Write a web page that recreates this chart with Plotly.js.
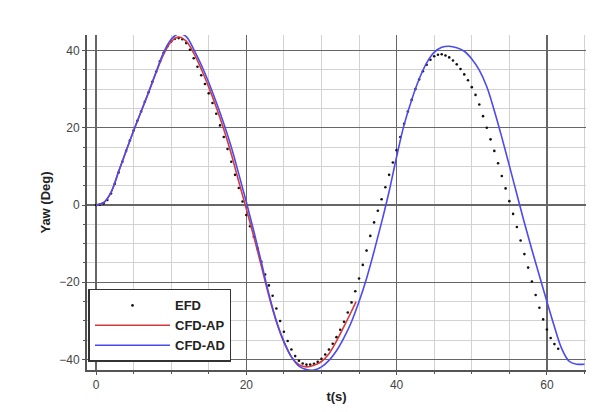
<!DOCTYPE html>
<html>
<head>
<meta charset="utf-8">
<script src="https://cdn.plot.ly/plotly-3.0.1.min.js"></script>
<style>html,body{margin:0;padding:0;background:#fff;}#chart{width:614px;height:412px;}</style>
</head>
<body>
<div id="chart"></div>
<script>
// EFD (experimental) samples
const efdT = [0,0.5,1,1.5,2,2.5,3,3.5,4,4.5,5,5.5,6,6.5,7,7.5,8,8.5,9,9.5,10,10.5,11,11.5,12,12.5,13,13.5,14,14.5,15,15.5,16,16.5,17,17.5,18,18.5,19,19.5,20,20.5,21,21.5,22,22.5,23,23.5,24,24.5,25,25.5,26,26.5,27,27.5,28,28.5,29,29.5,30,30.5,31,31.5,32,32.5,33,33.5,34,34.5,35,35.5,36,36.5,37,37.5,38,38.5,39,39.5,40,40.5,41,41.5,42,42.5,43,43.5,44,44.5,45,45.5,46,46.5,47,47.5,48,48.5,49,49.5,50,50.5,51,51.5,52,52.5,53,53.5,54,54.5,55,55.5,56,56.5,57,57.5,58,58.5,59,59.5,60,60.5,61,61.5];
const efdYaw = [0,0.1,0.4,1.3,3,5.5,8.4,11.2,14,16.7,19.3,21.8,24.2,26.7,29.2,31.9,34.5,37.2,39.4,41.1,42.3,43,43.2,42.9,41.9,40.2,38,35.8,33.6,31.3,28.9,26.4,23.6,20.6,17.6,14.5,11.2,7.8,4.4,0.9,-2.6,-5.5,-8.2,-11.3,-14.7,-18,-20.8,-23.5,-26.8,-30,-32.8,-35.2,-37.4,-39.1,-40.3,-41,-41.3,-41.3,-41.1,-40.6,-39.8,-38.7,-37.4,-35.9,-34.2,-32.3,-30.2,-27.8,-25.2,-22.3,-19,-15.5,-11.8,-8,-4.5,-1.5,1.5,4.6,7.8,11,14.2,17.6,21,24.2,27.2,30,32.5,34.6,36.3,37.6,38.5,38.9,39,38.7,38.2,37.4,36.4,35.2,33.8,32.3,30.5,28.5,26,23,20,17,14,10.8,7.5,4.3,1,-2.3,-5.7,-9.2,-12.7,-16.2,-19.8,-23.3,-26.6,-29.6,-32.2,-34.4,-36,-37.2];

// CFD-AP
const apT = [0,1,2,3,4,5,6,7,8,9,10,11,12,13,14,15,16,17,18,19,20,21,22,23,24,25,26,27,28,29,30,31,32,33,34,34.6];
const apYaw = [0,0.6,3.3,8.6,14,19.2,24.2,29.2,34.3,39,42.3,43.5,42.4,39.3,35.2,30.5,25.3,19.6,13.2,6,-1,-8.2,-15.8,-23.5,-30.2,-35.5,-39.3,-41.3,-41.9,-41.5,-40.5,-38.5,-35.2,-31.4,-27.5,-25];

// CFD-AD
const adT = [0,1,2,3,4,5,6,7,8,9,10,11,12,13,14,15,16,17,18,19,20,21,22,23,24,25,26,27,28,29,30,31,32,33,34,35,36,37,38,39,40,41,42,43,44,45,46,47,48,49,50,51,52,53,54,55,56,57,58,59,60,61,62,63,64,65];
const adYaw = [0,0.6,3.3,8.6,14,19.2,24.2,29.2,34.5,39.5,42.9,44.3,43.6,40.3,36.3,31.7,26.6,21.1,15,8,0.8,-6.8,-14.8,-23,-30,-35.3,-39.3,-41.7,-42.6,-42.7,-41.9,-40.2,-37.7,-34.3,-30.2,-25,-19,-12,-4.5,3.5,12.5,20.8,27.2,32.6,36.8,39.5,40.8,41.1,40.7,39.8,37.8,34.9,30.6,24.4,17.5,10.2,2.8,-4.6,-11.6,-18.3,-25,-31.5,-37.3,-40.5,-41.2,-41.2];

const traces = [
  {x: efdT, y: efdYaw, name: 'EFD', type: 'scatter', mode: 'markers',
   marker: {color: '#111111', size: 2.6}},
  {x: apT, y: apYaw, name: 'CFD-AP', type: 'scatter', mode: 'lines',
   line: {color: '#d63a3a', width: 1.6, shape: 'spline', smoothing: 1}},
  {x: adT, y: adYaw, name: 'CFD-AD', type: 'scatter', mode: 'lines',
   line: {color: '#4b4bf0', width: 1.6, shape: 'spline', smoothing: 1}}
];

const axisFont = {family: 'Liberation Sans, Arial, sans-serif', size: 12, color: '#444'};
const layout = {
  width: 614, height: 412,
  margin: {l: 87, r: 28, t: 35, b: 42},
  paper_bgcolor: '#fff', plot_bgcolor: '#fff',
  showlegend: true,
  xaxis: {
    range: [-1.2, 65.2], tickmode: 'linear', tick0: 0, dtick: 20,
    showgrid: true, gridcolor: '#666', gridwidth: 1.4,
    minor: {dtick: 5, showgrid: true, gridcolor: '#d2d2d2', gridwidth: 1, ticks: 'outside', ticklen: 2, tickcolor: '#555'},
    zeroline: false, showline: true, linecolor: '#555', linewidth: 2,
    ticks: 'outside', ticklen: 3, tickcolor: '#555',
    tickfont: axisFont,
    title: {text: 't(s)', font: {family: 'Liberation Sans, Arial, sans-serif', size: 13, color: '#222', weight: 'bold'}, standoff: 0}
  },
  yaxis: {
    range: [-42.7, 44.0], tickmode: 'linear', tick0: 0, dtick: 20,
    showgrid: true, gridcolor: '#666', gridwidth: 1.4,
    minor: {dtick: 5, showgrid: true, gridcolor: '#d2d2d2', gridwidth: 1, ticks: 'outside', ticklen: 2, tickcolor: '#555'},
    zeroline: false, showline: true, linecolor: '#555', linewidth: 2,
    ticks: 'outside', ticklen: 3, tickcolor: '#555',
    tickfont: axisFont,
    title: {text: 'Yaw (Deg)', font: {family: 'Liberation Sans, Arial, sans-serif', size: 13, color: '#222', weight: 'bold'}, standoff: 6}
  },
  legend: {
    x: 0.003, y: 0.024, xanchor: 'left', yanchor: 'bottom',
    bgcolor: '#ffffff', bordercolor: '#333', borderwidth: 1.5,
    font: {family: 'Liberation Sans, Arial, sans-serif', size: 13, color: '#222', weight: 'bold'},
    itemwidth: 75, tracegroupgap: 0
  }
};

Plotly.newPlot('chart', traces, layout, {displayModeBar: false, staticPlot: true});
</script>
</body>
</html>
